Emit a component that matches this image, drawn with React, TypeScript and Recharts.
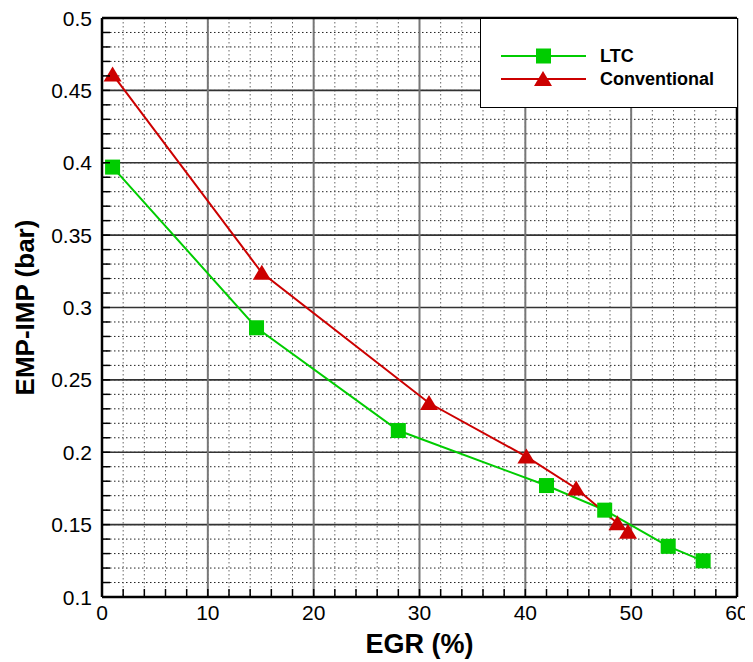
import { LineChart, Line, XAxis, YAxis, CartesianGrid, ReferenceLine, Legend, Label } from 'recharts';

const ltcEgr = [1.0, 14.6, 28.0, 42.0, 47.5, 53.5, 56.8];
const ltcDp = [0.397, 0.286, 0.215, 0.177, 0.16, 0.135, 0.125];
const convEgr = [1.0, 15.1, 30.9, 40.1, 44.8, 48.7, 49.7];
const convDp = [0.461, 0.324, 0.234, 0.197, 0.175, 0.151, 0.145];

const xMajor = [0, 10, 20, 30, 40, 50, 60];
const yMajor = [0.1, 0.15, 0.2, 0.25, 0.3, 0.35, 0.4, 0.45, 0.5];
const yLabels = ['0.1', '0.15', '0.2', '0.25', '0.3', '0.35', '0.4', '0.45', '0.5'];

const GREEN = '#00CC00';
const RED = '#CC0000';
const FONT = 'Liberation Sans, Arial, sans-serif';

// minor ticks: every 2 % on x, every 0.01 bar on y
const xMinor: number[] = [];
for (let i = 0; i <= 30; i++) xMinor.push(i * 2);
const yMinor: number[] = [];
for (let i = 10; i <= 50; i++) yMinor.push(i / 100);

const isMajor = (v: number, list: number[]) => list.some(m => Math.abs(m - v) < 1e-6);

const ltcData = ltcEgr.map((x, i) => ({ x, y: ltcDp[i] }));
const convData = convEgr.map((x, i) => ({ x, y: convDp[i] }));

function XTick({ x, y, payload }: any) {
  const v = payload.value;
  const major = isMajor(v, xMajor);
  return (
    <g>
      <line x1={x} y1={y} x2={x} y2={y - 8} stroke="#000" strokeWidth={1.5} />
      {major && (
        <text x={x} y={y + 23} textAnchor="middle" fontSize={21} fontFamily={FONT} fill="#000">
          {v}
        </text>
      )}
    </g>
  );
}

function YTick({ x, y, payload }: any) {
  const v = payload.value;
  const idx = yMajor.findIndex(m => Math.abs(m - v) < 1e-6);
  return (
    <g>
      <line x1={x} y1={y} x2={x + 8} y2={y} stroke="#000" strokeWidth={1.5} />
      {idx >= 0 && (
        <text x={x - 10} y={y} dy="0.36em" textAnchor="end" fontSize={21} fontFamily={FONT} fill="#000">
          {yLabels[idx]}
        </text>
      )}
    </g>
  );
}

const square = (p: any) => (
  <rect key={`sq-${p.index}`} x={p.cx - 7.5} y={p.cy - 7.5} width={15} height={15} fill={GREEN} />
);

const triangle = (p: any) => (
  <polygon
    key={`tr-${p.index}`}
    points={`${p.cx},${p.cy - 8} ${p.cx + 9},${p.cy + 7} ${p.cx - 9},${p.cy + 7}`}
    fill={RED}
  />
);

function LegendBox() {
  return (
    <div style={{ width: 258, height: 90, boxSizing: 'border-box', border: '1.5px solid #000', background: '#fff' }}>
      <svg width={255} height={87}>
        <line x1={20} y1={37} x2={105} y2={37} stroke={GREEN} strokeWidth={2} />
        <rect x={55} y={29.5} width={15} height={15} fill={GREEN} />
        <line x1={20} y1={60} x2={105} y2={60} stroke={RED} strokeWidth={2} />
        <polygon points="62,52 71,67 53,67" fill={RED} />
        <text x={119} y={37} dy="0.36em" fontSize={18} fontWeight="bold" fontFamily={FONT}>LTC</text>
        <text x={119} y={60} dy="0.36em" fontSize={18} fontWeight="bold" fontFamily={FONT}>Conventional</text>
      </svg>
    </div>
  );
}

export default function App() {
  return (
    <>
      <style>{'body{overflow:hidden}'}</style>
      <LineChart
        width={760}
        height={654}
        margin={{ top: 10, right: 31, left: 0, bottom: 9 }}
        style={{ overflow: 'visible' }}
      >
        <CartesianGrid
          horizontalValues={yMinor}
          vertical={false}
          stroke="#222"
          strokeDasharray="1.5 2.5"
          strokeWidth={1}
        />
        <CartesianGrid
          verticalValues={xMinor}
          horizontal={false}
          stroke="#666"
          strokeDasharray="1.5 2.5"
          strokeWidth={1}
        />
        <CartesianGrid horizontalValues={yMajor} vertical={false} stroke="#333" strokeWidth={1.6} />
        <CartesianGrid verticalValues={xMajor} horizontal={false} stroke="#777" strokeWidth={2} />
        <XAxis
          type="number"
          dataKey="x"
          domain={[0, 60]}
          ticks={xMinor}
          interval={0}
          tickSize={0}
          tickMargin={0}
          tick={<XTick />}
          height={56}
          axisLine={{ stroke: '#000', strokeWidth: 2.5 }}
        >
          <Label
            value="EGR (%)"
            position="insideBottom"
            offset={0}
            style={{ fontSize: 27, fontWeight: 'bold', fontFamily: FONT, fill: '#000' }}
          />
        </XAxis>
        <YAxis
          type="number"
          domain={[0.1, 0.5]}
          ticks={yMinor}
          interval={0}
          tickSize={0}
          tickMargin={0}
          tick={<YTick />}
          width={94}
          axisLine={{ stroke: '#000', strokeWidth: 2.5 }}
        >
          <Label
            value="EMP-IMP (bar)"
            position="insideLeft"
            angle={-90}
            offset={17}
            style={{ textAnchor: 'middle', fontSize: 26, fontWeight: 'bold', fontFamily: FONT, fill: '#000' }}
          />
        </YAxis>
        <ReferenceLine y={0.5} stroke="#000" strokeWidth={2.5} />
        <ReferenceLine x={60} stroke="#000" strokeWidth={2.5} />
        <Line
          data={ltcData}
          dataKey="y"
          name="LTC"
          stroke={GREEN}
          strokeWidth={2}
          dot={square}
          activeDot={false}
          isAnimationActive={false}
        />
        <Line
          data={convData}
          dataKey="y"
          name="Conventional"
          stroke={RED}
          strokeWidth={2}
          dot={triangle}
          activeDot={false}
          isAnimationActive={false}
        />
        <Legend
          layout="horizontal"
          align="center"
          verticalAlign="middle"
          content={() => <LegendBox />}
          wrapperStyle={{ position: 'absolute', left: 472, top: 10, width: 258, height: 90 }}
        />
      </LineChart>
    </>
  );
}
